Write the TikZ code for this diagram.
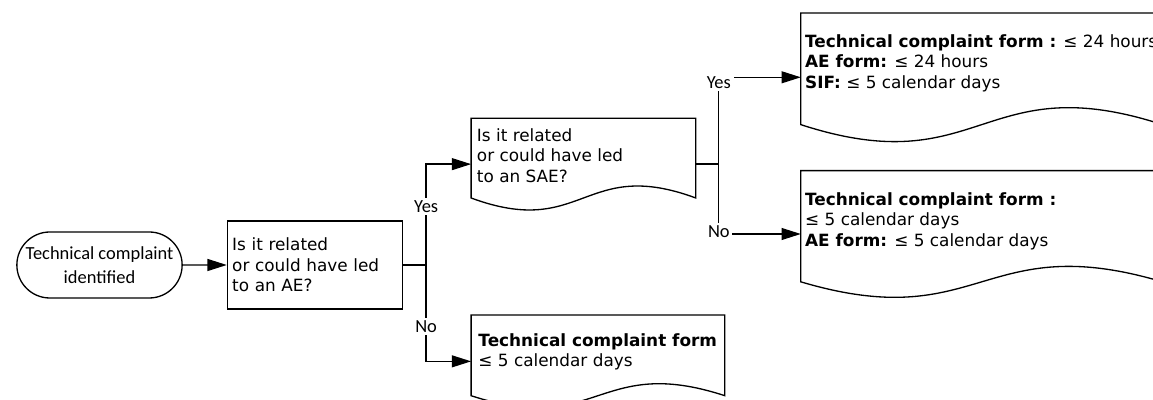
\documentclass[tikz,border=0pt]{standalone}
\usepackage{fontspec}
\setmainfont{DejaVu Sans}
\newfontfamily\calibrifont{Carlito}
\usetikzlibrary{arrows.meta,positioning,calc,shapes.misc}
\tikzset{
  flowbox/.style={draw, line width=0.75pt, rectangle, align=left, inner xsep=2.7pt,
    font=\fontsize{9.6}{11.6}\selectfont},
  termbox/.style={draw, line width=0.75pt, rounded rectangle, align=center,
    font=\calibrifont\fontsize{10.5}{13.6}\selectfont},
  docbox/.style={rectangle, inner sep=0pt},
  doctext/.style={anchor=north west, inner sep=0pt, align=left,
    font=\fontsize{9.6}{11.6}\selectfont},
  flowline/.style={line width=0.75pt},
  flowarrow/.style={-{Triangle[length=11pt, width=6.8pt]}, line width=0.75pt},
  answer/.style={fill=white, inner sep=1.5pt, font=\calibrifont\fontsize{10.5}{12}\selectfont}
}

\begin{document}
\begin{tikzpicture}
  \useasboundingbox (0,0) rectangle (23.06,8);
  \clip (0,0) rectangle (23.06,8);

  \node[termbox, minimum width=3.54cm, minimum height=1.32cm] (start) at (1.99,2.70)
    {Technical complaint\\identified};
  \node[flowbox, minimum width=3.5cm, minimum height=1.76cm, text width=3.31cm,
    right=0.88cm of start] (ae)
    {Is it related\\or could have led\\to an AE?};
  \coordinate[right=0.46cm of ae] (j1);

  % document shapes, outlines drawn below
  \node[docbox, minimum width=4.48cm, minimum height=1.82cm,
    above right=1.1cm and 0.9cm of j1] (sae) {};
  \node[docbox, minimum width=5.06cm, minimum height=1.84cm,
    below right=1.0cm and 0.9cm of j1] (tcform) {};
  \coordinate[right=0.46cm of sae] (j2);
  \node[docbox, minimum width=7.22cm, minimum height=2.56cm,
    above right=0.45cm and 1.64cm of j2] (saeforms) {};
  \node[docbox, minimum width=7.22cm, minimum height=2.52cm,
    below right=0.13cm and 1.64cm of j2] (aeforms) {};

  \foreach \doc/\d in {sae/0.24, tcform/0.24, saeforms/0.34, aeforms/0.31}
    \draw[flowline] ($(\doc.south west)+(0,\d)$) |- (\doc.north east)
      -- ($(\doc.south east)+(0,\d)$)
      .. controls ($(\doc.south)+(0,{4.46*\d})$) and ($(\doc.south)+(0,{-2.46*\d})$)
      .. ($(\doc.south west)+(0,\d)$) -- cycle;

  \node[doctext, below right=0.2cm and 0.11cm of sae.north west] (saetext)
    {Is it related\\or could have led\\to an SAE?};
  \node[doctext, below right=0.36cm and 0.14cm of tcform.north west] (tctext)
    {\textbf{Technical complaint form}\\≤ 5 calendar days};
  \node[doctext, below right=0.43cm and 0.08cm of saeforms.north west] (saeformstext)
    {\textbf{Technical complaint form :} ≤ 24 hours\\
     \textbf{AE form:} ≤ 24 hours\\
     \textbf{SIF:} ≤ 5 calendar days};
  \node[doctext, below right=0.43cm and 0.08cm of aeforms.north west] (aeformstext)
    {\textbf{Technical complaint form :}\\
     ≤ 5 calendar days\\
     \textbf{AE form:} ≤ 5 calendar days};

  \draw[flowarrow] (start) -- (ae);
  \draw[flowline] (ae) -- (j1);
  \draw[flowarrow] (j1) |- node[answer, pos=0.29] {Yes} (sae);
  \draw[flowarrow] (j1) |- node[answer, pos=0.32] {No} (tcform);
  \draw[flowline] (sae) -- (j2);
  \draw[flowarrow] (j2) |- node[answer, pos=0.47] {Yes} (saeforms);
  \draw[flowarrow] (j2) |- node[answer, pos=0.48] {No} (aeforms);
\end{tikzpicture}
\end{document}
